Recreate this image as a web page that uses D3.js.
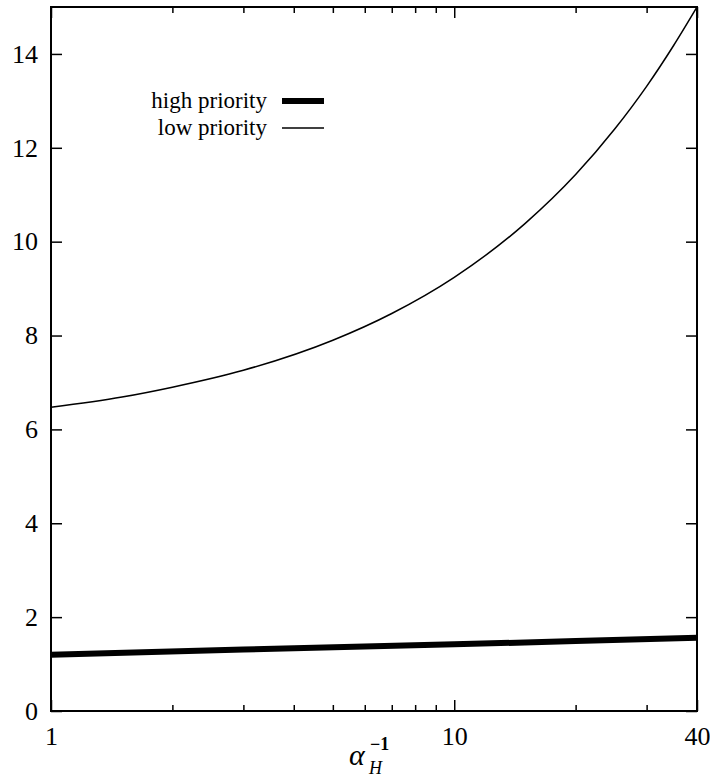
<!DOCTYPE html>
<html>
<head>
<meta charset="utf-8">
<script src="https://cdn.jsdelivr.net/npm/d3@7"></script>
<style>
  body { margin: 0; background: #fff; }
  text { font-family: "Liberation Serif", "Times New Roman", "DejaVu Serif", serif; fill: #000; }
</style>
</head>
<body>
<div class="chart"></div>
<script>
// values
const xVals = [1, 1.5, 2, 3, 5, 7, 10, 15, 20, 25, 30, 35, 40];
const lowPriority = [6.47, 6.69, 6.9, 7.26, 7.9, 8.47, 9.24, 10.39, 11.43, 12.4, 13.31, 14.18, 15.0];
const highX = [1, 3, 10, 20, 40];
const highPriority = [1.2, 1.31, 1.42, 1.49, 1.56];

const xMajor = [1, 10, 40];
const xMinor = [2, 3, 4, 5, 6, 7, 8, 9, 20, 30];
const yTicks = [0, 2, 4, 6, 8, 10, 12, 14];

const legendItems = [
  { label: "high priority", width: 6 },
  { label: "low priority", width: 1.4 }
];

const width = 710, height = 780;
const margin = { top: 7, right: 13, bottom: 69, left: 51 };
const font = "'Liberation Serif', 'Times New Roman', serif";

const x = d3.scaleLog()
  .domain([1, 40])
  .range([margin.left, width - margin.right]);
const y = d3.scaleLinear()
  .domain([0, 15])
  .range([height - margin.bottom, margin.top]);

const svg = d3.select(".chart")
  .append("svg")
  .attr("width", width)
  .attr("height", height);

// curves
svg.append("path")
  .attr("d", d3.line().x(d => x(d[0])).y(d => y(d[1]))(d3.zip(highX, highPriority)))
  .attr("fill", "none")
  .attr("stroke", "#000")
  .attr("stroke-width", 6);

svg.append("path")
  .attr("d", d3.line().x(d => x(d[0])).y(d => y(d[1])).curve(d3.curveMonotoneX)(d3.zip(xVals, lowPriority)))
  .attr("fill", "none")
  .attr("stroke", "#000")
  .attr("stroke-width", 1.5);

// frame
const innerW = width - margin.left - margin.right;
const innerH = height - margin.top - margin.bottom;
svg.append("rect")
  .attr("x", margin.left)
  .attr("y", margin.top)
  .attr("width", innerW)
  .attr("height", innerH)
  .attr("fill", "none")
  .attr("stroke", "#000")
  .attr("stroke-width", 2);

// x axes (bottom + top), ticks pointing inward
function xAxis(g, ticks, len, labels) {
  g.call(d3.axisBottom(x).tickValues(ticks).tickSize(-len).tickFormat(labels ? d3.format("d") : ""));
  g.select(".domain").remove();
  g.selectAll(".tick line").attr("stroke-width", 1.5);
  g.selectAll(".tick text")
    .attr("y", 16)
    .attr("dy", "0.71em")
    .style("font-size", "26px")
    .style("font-family", font);
}
svg.append("g").attr("transform", `translate(0,${height - margin.bottom})`).call(g => xAxis(g, xMajor, 11, true));
svg.append("g").attr("transform", `translate(0,${height - margin.bottom})`).call(g => xAxis(g, xMinor, 6, false));
svg.append("g").attr("transform", `translate(0,${margin.top})`).call(g => xAxis(g, xMajor, -11, false));
svg.append("g").attr("transform", `translate(0,${margin.top})`).call(g => xAxis(g, xMinor, -6, false));

// y axes
const yLeft = svg.append("g")
  .attr("transform", `translate(${margin.left},0)`)
  .call(d3.axisLeft(y).tickValues(yTicks).tickSize(-11).tickFormat(d3.format("d")));
yLeft.select(".domain").remove();
yLeft.selectAll(".tick line").attr("stroke-width", 1.5);
yLeft.selectAll(".tick text")
  .attr("x", -13)
  .style("font-size", "26px")
  .style("font-family", font);

const yRight = svg.append("g")
  .attr("transform", `translate(${width - margin.right},0)`)
  .call(d3.axisRight(y).tickValues(yTicks).tickSize(-11).tickFormat(""));
yRight.select(".domain").remove();
yRight.selectAll(".tick line").attr("stroke-width", 1.5);

// legend
const legend = svg.append("g").attr("transform", "translate(267,101)");
legendItems.forEach((item, i) => {
  const row = legend.append("g").attr("transform", `translate(0,${i * 27})`);
  row.append("text")
    .attr("x", 0)
    .attr("dy", "0.32em")
    .attr("text-anchor", "end")
    .style("font-size", "23px")
    .text(item.label);
  row.append("line")
    .attr("x1", 15)
    .attr("x2", 57)
    .attr("stroke", "#000")
    .attr("stroke-width", item.width);
});

// x axis label: alpha_H^{-1}
const cx = margin.left + innerW / 2 - 25;
const lab = svg.append("g").attr("transform", `translate(${cx},765)`);
lab.append("text")
  .attr("x", 0)
  .style("font-size", "30px")
  .style("font-style", "italic")
  .text("α");
lab.append("text")
  .attr("x", 20)
  .attr("y", 9)
  .style("font-size", "18px")
  .style("font-style", "italic")
  .text("H");
lab.append("text")
  .attr("x", 21)
  .attr("y", -15)
  .style("font-size", "18px")
  .style("font-weight", "bold")
  .text("−1");
</script>
</body>
</html>
